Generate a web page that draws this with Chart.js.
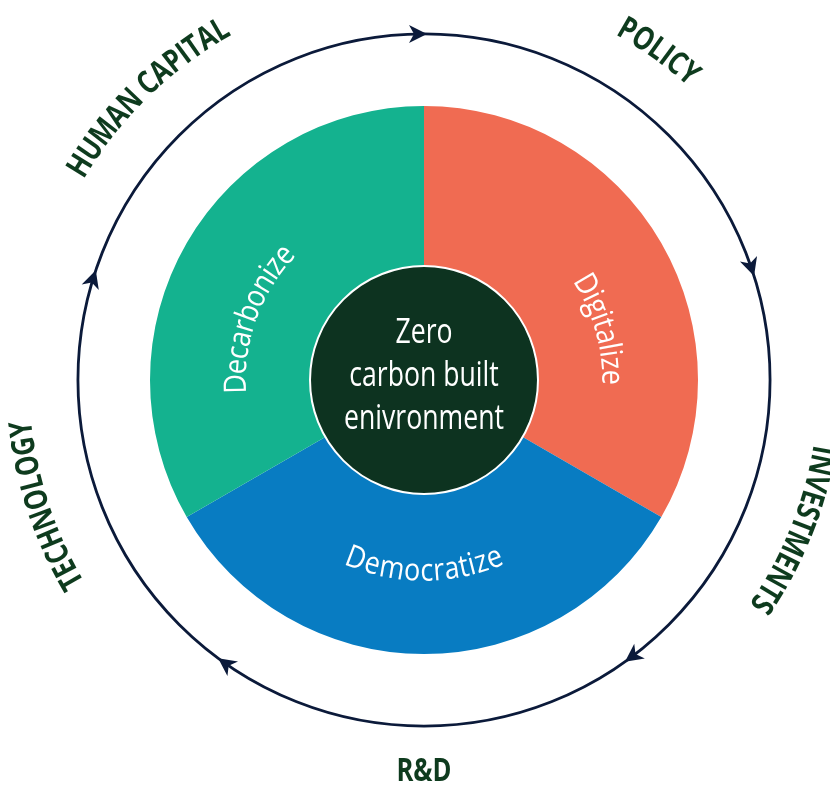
<!DOCTYPE html>
<html>
<head>
<meta charset="utf-8">
<script src="https://cdn.jsdelivr.net/npm/chart.js@4"></script>
<style>
html,body{margin:0;padding:0;background:#fff;}
#wrap{width:830px;height:792px;position:relative;}
</style>
</head>
<body>
<div id="wrap"><canvas id="c" width="830" height="792"></canvas></div>
<script>
// ---- data ----
const categories = ['Digitalize', 'Democratize', 'Decarbonize'];
const shares = [1, 1, 1];
const segmentColors = ['#F06B52', '#087CC2', '#14B28F'];
const centerLines = ['Zero', 'carbon built', 'enivronment'];
const cycleLabels = ['POLICY', 'INVESTMENTS', 'R&D', 'TECHNOLOGY', 'HUMAN CAPITAL'];
const cycleLabelAngles = [35.5, 112, 180, 251.7, 315.7];   // degrees clockwise from top
const segmentLabelAngles = [74, 180, 290];
const arrowAngles = [0, 72, 144, 216, 288];

const FONT = '"Open Sans", "Noto Sans", sans-serif';
const DARK = '#0D3320';
const TEXTGREEN = '#0E3B1E';
const NAVY = '#0B1A3A';

function pt(cx, cy, r, deg) {
  const a = deg * Math.PI / 180;
  return [cx + r * Math.sin(a), cy - r * Math.cos(a)];
}

// horizontal squeeze factor so that `ref` text measures `target` px
function squeeze(ctx, ref, target) {
  return target / ctx.measureText(ref).width;
}

// curved text; outward = tops point away from centre, reads clockwise
function arcText(ctx, text, cx, cy, r, centerDeg, outward, sx) {
  const widths = [...text].map(ch => ctx.measureText(ch).width * sx);
  const total = widths.reduce((a, b) => a + b, 0);
  const totalDeg = total / r * 180 / Math.PI;
  let acc = 0;
  ctx.textAlign = 'center';
  ctx.textBaseline = 'middle';
  [...text].forEach((ch, i) => {
    const w = widths[i];
    const offDeg = (acc + w / 2) / r * 180 / Math.PI;
    const deg = outward ? centerDeg - totalDeg / 2 + offDeg : centerDeg + totalDeg / 2 - offDeg;
    const [x, y] = pt(cx, cy, r, deg);
    ctx.save();
    ctx.translate(x, y);
    ctx.rotate((outward ? deg : deg - 180) * Math.PI / 180);
    ctx.scale(sx, 1);
    ctx.fillText(ch, 0, 0);
    ctx.restore();
    acc += w;
  });
}

const decor = {
  id: 'decor',
  afterDatasetsDraw(chart) {
    const ctx = chart.ctx;
    const arc = chart.getDatasetMeta(0).data[0];
    const cx = arc.x, cy = arc.y, R = arc.outerRadius, r0 = arc.innerRadius;

    // centre disc
    ctx.save();
    ctx.beginPath();
    ctx.arc(cx, cy, r0, 0, Math.PI * 2);
    ctx.fillStyle = DARK;
    ctx.fill();
    ctx.lineWidth = 2;
    ctx.strokeStyle = '#ffffff';
    ctx.stroke();

    // centre text
    ctx.fillStyle = '#ffffff';
    ctx.font = '34px ' + FONT;
    let sx = squeeze(ctx, 'enivronment', 160);
    ctx.textAlign = 'center';
    ctx.textBaseline = 'alphabetic';
    const lh = 43;
    centerLines.forEach((t, i) => {
      ctx.save();
      ctx.translate(cx, cy - 37 + i * lh);
      ctx.scale(sx, 1);
      ctx.fillText(t, 0, 0);
      ctx.restore();
    });

    // segment labels
    ctx.font = '31px ' + FONT;
    sx = squeeze(ctx, 'Decarbonize', 158);
    ctx.fillStyle = '#ffffff';
    categories.forEach((t, i) => {
      const deg = segmentLabelAngles[i];
      const bottom = deg > 135 && deg < 225;
      arcText(ctx, t, cx, cy, bottom ? R * 0.70 : R * 0.683, deg, !bottom, sx);
    });

    // outer cycle circle
    const rc = R * 1.263;
    ctx.beginPath();
    ctx.arc(cx, cy, rc, 0, Math.PI * 2);
    ctx.lineWidth = 2.8;
    ctx.strokeStyle = NAVY;
    ctx.stroke();

    // arrowheads (clockwise)
    ctx.fillStyle = NAVY;
    arrowAngles.forEach(deg => {
      const [x, y] = pt(cx, cy, rc, deg);
      ctx.save();
      ctx.translate(x, y);
      ctx.rotate(deg * Math.PI / 180);
      ctx.beginPath();
      ctx.moveTo(3, 0);
      ctx.lineTo(-15, -9);
      ctx.lineTo(-10, 0);
      ctx.lineTo(-15, 9);
      ctx.closePath();
      ctx.fill();
      ctx.restore();
    });

    // cycle labels
    ctx.font = 'bold 32px ' + FONT;
    sx = squeeze(ctx, 'HUMAN CAPITAL', 214);
    ctx.fillStyle = TEXTGREEN;
    cycleLabels.forEach((t, i) => {
      const deg = cycleLabelAngles[i];
      if (deg === 180) {
        const [x, y] = pt(cx, cy, R * 1.43, deg);
        ctx.save();
        ctx.translate(x, y);
        ctx.scale(sx, 1);
        ctx.textAlign = 'center';
        ctx.textBaseline = 'middle';
        ctx.fillText(t, 0, 0);
        ctx.restore();
      } else {
        arcText(ctx, t, cx, cy, R * 1.475, deg, true, sx);
      }
    });
    ctx.restore();
  }
};

new Chart(document.getElementById('c'), {
  type: 'doughnut',
  data: {
    labels: categories,
    datasets: [{
      data: shares,
      backgroundColor: segmentColors,
      borderWidth: 0,
      hoverOffset: 0
    }]
  },
  options: {
    responsive: false,
    animation: false,
    cutout: '41.6%',
    layout: { padding: { left: 150, right: 132, top: 106, bottom: 138 } },
    plugins: { legend: { display: false }, tooltip: { enabled: false } },
    events: []
  },
  plugins: [decor]
});
</script>
</body>
</html>
